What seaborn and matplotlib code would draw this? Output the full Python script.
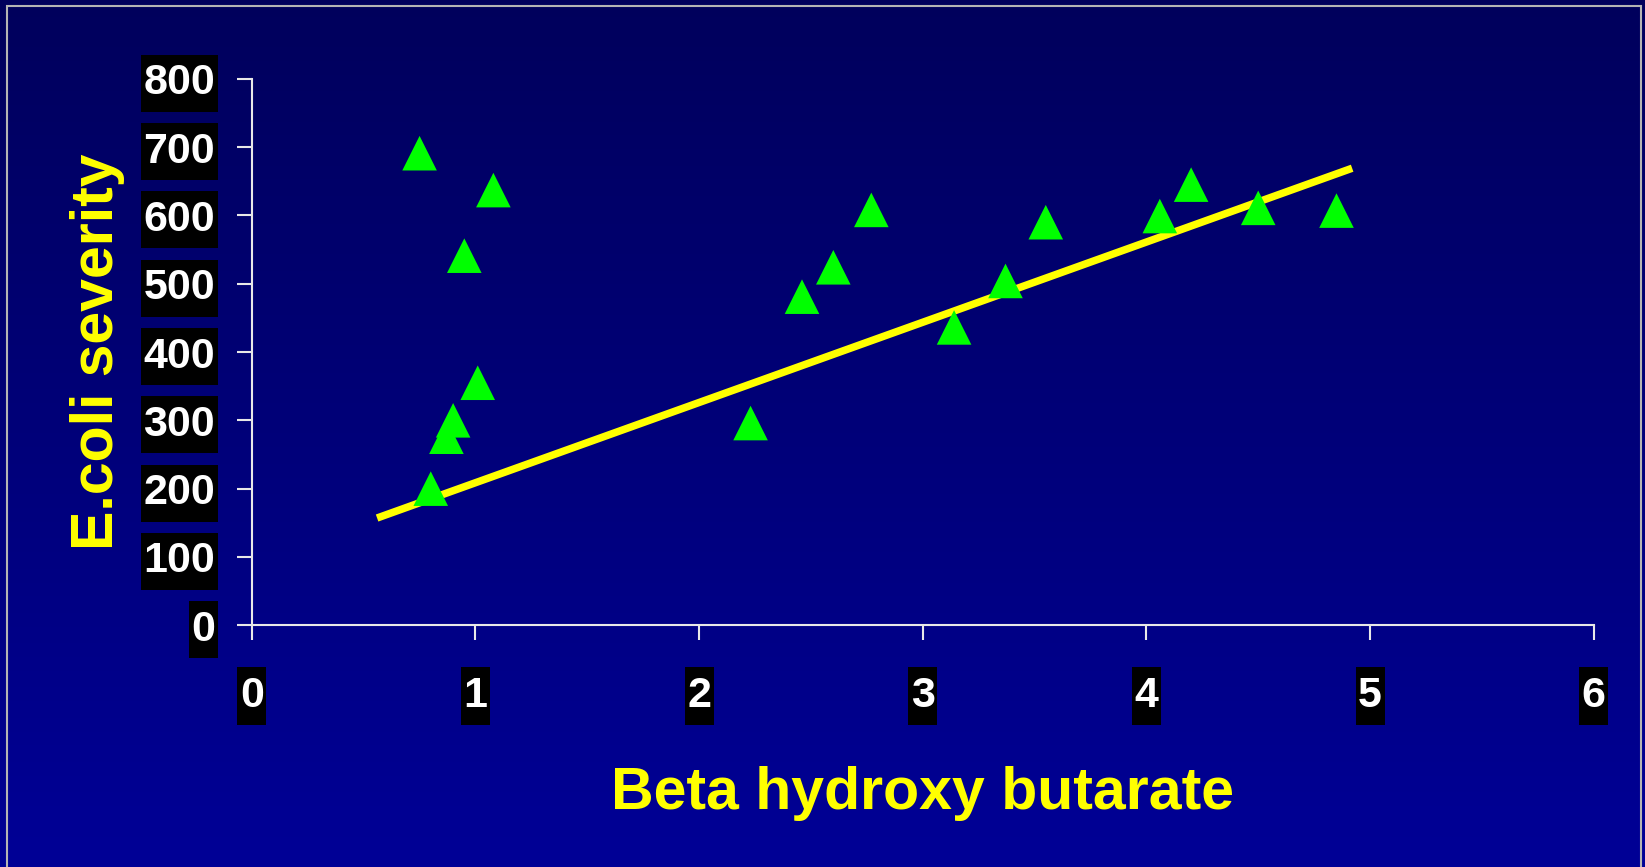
import numpy as np
import seaborn as sns
import matplotlib.pyplot as plt
import pandas as pd
from matplotlib.path import Path
from matplotlib.patches import Rectangle
from matplotlib.colors import LinearSegmentedColormap

# Points
bhb = [0.75, 1.08, 0.95, 1.01, 0.90, 0.87, 0.80, 2.23, 2.46, 2.60,
       2.77, 3.14, 3.37, 3.55, 4.06, 4.20, 4.50, 4.85]
severity = [691, 637, 541, 355, 300, 276, 200, 296, 481, 524,
            608, 436, 504, 590, 599, 645, 611, 607]

# Trend line end points
trend_x = [0.56, 4.92]
trend_y = [157, 669]

x_ticks = [0, 1, 2, 3, 4, 5, 6]
y_ticks = [0, 100, 200, 300, 400, 500, 600, 700, 800]

df = pd.DataFrame({"bhb": bhb, "severity": severity})
trend = pd.DataFrame({"x": trend_x, "y": trend_y})

sns.set_style("ticks")
plt.rcParams['font.family'] = ['Liberation Sans', 'DejaVu Sans']

fig = plt.figure(figsize=(16.45, 8.67), dpi=100)

# slide background gradient
bg = fig.add_axes([0, 0, 1, 1], zorder=-1)
cmap = LinearSegmentedColormap.from_list("slide", ["#000096", "#00005C"])
bg.imshow(np.linspace(0, 1, 256).reshape(-1, 1)[::-1], aspect='auto',
          cmap=cmap, extent=[0, 1, 0, 1], origin='upper')
bg.axis('off')
fig.add_artist(Rectangle((7 / 1645, -0.01), 1634 / 1645, 1.0031,
                         transform=fig.transFigure, fill=False,
                         edgecolor='#B4B4B4', lw=1.5))

ax = fig.add_axes([0.1531, 0.2788, 0.8157, 0.6304])
ax.set_facecolor('none')

sns.lineplot(x="x", y="y", data=trend, ax=ax, color="#FFFF00",
             linewidth=5.4, solid_capstyle='butt')
sns.scatterplot(x="bhb", y="severity", data=df, ax=ax, marker="^",
                s=620, color="#00FF00", edgecolor="none", zorder=3)

ax.set_xlim(0, 6)
ax.set_ylim(0, 800)
ax.set_xticks(x_ticks)
ax.set_yticks(y_ticks)
sns.despine(ax=ax)
for side in ['left', 'bottom']:
    ax.spines[side].set_color('#E8E8E8')
    ax.spines[side].set_linewidth(1.5)

ax.tick_params(color='#E8E8E8', labelcolor='white', length=10.5, width=1.5)
ax.tick_params(axis='x', pad=26)
ax.tick_params(axis='y', pad=16)


def tick_box(x0, y0, width, height, mutation_size):
    px, py = 0.06 * mutation_size, 0.2 * mutation_size
    return Path([(x0 - px, y0 - py), (x0 + width + px, y0 - py),
                 (x0 + width + px, y0 + height + py), (x0 - px, y0 + height + py),
                 (x0 - px, y0 - py)], closed=True)


for lab in ax.get_xticklabels() + ax.get_yticklabels():
    lab.set_fontweight('bold')
    lab.set_fontsize(31)
    lab.set_bbox(dict(boxstyle=tick_box, facecolor='black', edgecolor='none'))

label_font = dict(fontsize=42.5, fontweight='bold', color='#FFFF00')
ax.set_xlabel("Beta hydroxy butarate", va='center', **label_font)
ax.set_ylabel("E.coli severity", va='center', **label_font)
ax.xaxis.set_label_coords(0.5, -0.307)
ax.yaxis.set_label_coords(-0.115, 0.5)

plt.savefig("out.png", dpi=100)
